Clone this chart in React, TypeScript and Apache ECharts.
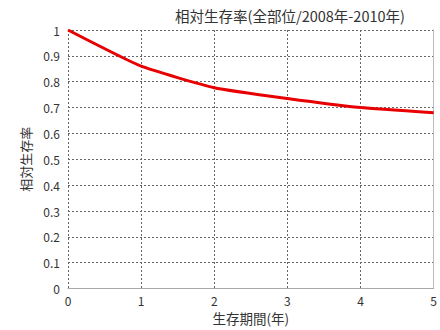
import React, { useEffect, useRef } from "react";
import * as echarts from "echarts";

const title = "相対生存率(全部位/2008年-2010年)";
const xName = "生存期間(年)";
const yName = "相対生存率";
const years = [0, 1, 2, 3, 4, 5];
const survival = [1, 0.86, 0.777, 0.735, 0.7, 0.68];

const FONT = "'Noto Sans CJK JP', 'Noto Sans', sans-serif";

export default function App() {
  const ref = useRef<HTMLDivElement>(null);
  useEffect(() => {
    if (!ref.current) return;
    const chart = echarts.init(ref.current, undefined, { renderer: "svg" });
    const gridDot = "#666";
    chart.setOption({
      animation: false,
      backgroundColor: "#fff",
      textStyle: { fontFamily: FONT },
      title: {
        text: title,
        left: 285,
        textAlign: "center",
        top: 3,
        textStyle: { fontSize: 14.5, fontWeight: "normal", color: "#333", fontFamily: FONT },
      },
      grid: { left: 68, right: 6, top: 30, bottom: 38, containLabel: false },
      xAxis: {
        type: "value",
        min: 0,
        max: 5,
        interval: 1,
        name: xName,
        nameLocation: "middle",
        nameGap: 22,
        nameTextStyle: { fontSize: 13.5, color: "#333", fontFamily: FONT },
        axisLine: { show: true, lineStyle: { color: "#aaa", width: 1 } },
        axisTick: { show: false },
        axisLabel: { color: "#333", fontSize: 12, margin: 6, fontFamily: FONT },
        splitLine: {
          show: true,
          lineStyle: {
            type: [2, 2],
            width: 1,
            color: [gridDot, gridDot, gridDot, gridDot, gridDot, "transparent"],
          },
        },
      },
      yAxis: [
        {
          type: "value",
          min: 0,
          max: 1,
          interval: 0.1,
          name: yName,
          nameLocation: "middle",
          nameGap: 35,
          nameRotate: 90,
          nameTextStyle: { fontSize: 13, color: "#333", fontFamily: FONT },
          axisLine: { show: false },
          axisTick: { show: false },
          axisLabel: {
            color: "#333",
            fontSize: 12,
            margin: 8,
            fontFamily: FONT,
            formatter: (v: number) => String(Math.round(v * 10) / 10),
          },
          splitLine: {
            show: true,
            lineStyle: {
              type: [2, 2],
              width: 1,
              color: ["transparent", gridDot, gridDot, gridDot, gridDot, gridDot, gridDot, gridDot, gridDot, gridDot, gridDot],
            },
          },
        },
        {
          type: "value",
          min: 0,
          max: 1,
          position: "right",
          axisLine: { show: true, lineStyle: { color: "#bbb", width: 1 } },
          axisTick: { show: false },
          axisLabel: { show: false },
          splitLine: { show: false },
        },
      ],
      series: [
        {
          type: "line",
          data: years.map((x, i) => [x, survival[i]]),
          smooth: 0.15,
          symbol: "none",
          lineStyle: { color: "#e80000", width: 3 },
          z: 5,
        },
      ],
    });
    return () => chart.dispose();
  }, []);
  return <div ref={ref} style={{ width: 440, height: 330, position: "absolute", left: 0, top: 0 }} />;
}
